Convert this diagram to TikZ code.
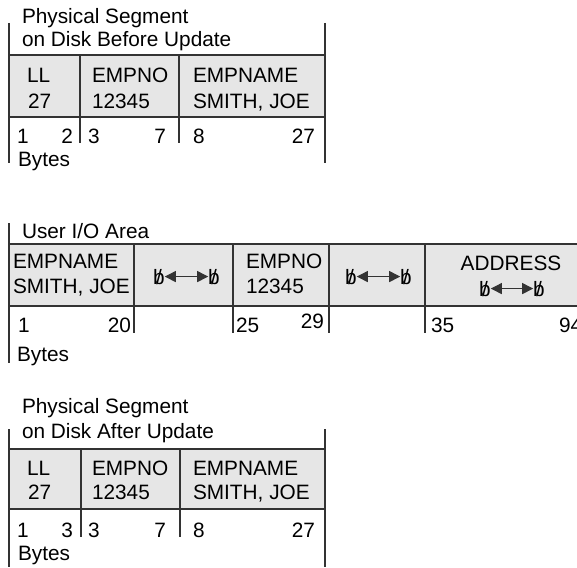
\documentclass[tikz,border=0pt]{standalone}
\usepackage{fontspec}
\setmainfont{Liberation Sans}
\usetikzlibrary{arrows.meta}
\definecolor{cellgray}{HTML}{E6E6E6}
\definecolor{ink}{HTML}{333333}
\newcommand{\blankb}{\ooalign{b\cr\hidewidth/\hidewidth\cr}}
\begin{document}
\begin{tikzpicture}[x=1pt,y=-1pt,
  every node/.style={inner sep=0pt, outer sep=0pt, font=\fontsize{20.8}{24}\selectfont, text=black},
  frame/.style={draw=ink, line width=1.1pt},
  cell/.style={fill=cellgray},
  lbl/.style={anchor=base west},
  rlbl/.style={anchor=base east},
  clbl/.style={anchor=base},
  gap/.style={draw=ink, line width=1pt, {Triangle[length=11pt,width=11pt]}-{Triangle[length=11pt,width=11pt]}}]
\useasboundingbox (0,0) rectangle (577,567);

% ---------- Top: Physical segment before update ----------
\fill[cell] (9,55) rectangle (325,117);
\draw[frame] (9,23) -- (9,163);
\draw[frame] (325,23) -- (325,163);
\draw[frame] (9,55) -- (325,55);
\draw[frame] (9,117) -- (325,117);
\draw[frame] (80,55) -- (80,143);
\draw[frame] (179,55) -- (179,143);
\node[lbl] (t1) at (22,24) {Physical Segment};
\node[lbl] (t2) at (22,47) {on Disk Before Update};
\node[lbl] (tll) at (27,83) {LL};
\node[lbl] (tllv) at (28,108) {27};
\node[lbl] (tno) at (92,83) {EMPNO};
\node[lbl] (tnov) at (92,108) {12345};
\node[lbl] (tna) at (193,83) {EMPNAME};
\node[lbl] (tnav) at (193,108) {SMITH, JOE};
\node[lbl] (tb1) at (17,143) {1};
\node[rlbl] (tb2) at (73,143) {2};
\node[lbl] (tb3) at (88,143) {3};
\node[rlbl] (tb7) at (166,143) {7};
\node[lbl] (tb8) at (193,143) {8};
\node[rlbl] (tb27) at (315,143) {27};
\node[lbl] (tby) at (18,166) {Bytes};

% ---------- Middle: User I/O area ----------
\fill[cell] (9,244) rectangle (577,306);
\draw[frame] (9,223) -- (9,363);
\draw[frame] (9,244) -- (577,244);
\draw[frame] (9,306) -- (577,306);
\draw[frame] (134,244) -- (134,333);
\draw[frame] (233,244) -- (233,333);
\draw[frame] (329,244) -- (329,333);
\draw[frame] (425,244) -- (425,333);
\node[lbl] (m0) at (22,238) {User I/O Area};
\node[lbl] (mna) at (13,268) {EMPNAME};
\node[lbl] (mnav) at (13,293) {SMITH, JOE};
\node[clbl] (m2a) at (159,284) {\blankb};
\node[clbl] (m2b) at (214,284) {\blankb};
\draw[gap] (m2a.east) -- (m2b.west);
\node[lbl] (mno) at (246,268) {EMPNO};
\node[lbl] (mnov) at (246,293) {12345};
\node[clbl] (m4a) at (351,284) {\blankb};
\node[clbl] (m4b) at (406,284) {\blankb};
\draw[gap] (m4a.east) -- (m4b.west);
\node[clbl] (mad) at (511,270) {ADDRESS};
\node[clbl] (m5a) at (485,296) {\blankb};
\node[clbl] (m5b) at (539,296) {\blankb};
\draw[gap] (m5a.east) -- (m5b.west);
\node[lbl] (mb1) at (18,332) {1};
\node[rlbl] (mb20) at (131,332) {20};
\node[lbl] (mb25) at (236,332) {25};
\node[rlbl] (mb29) at (324,328) {29};
\node[lbl] (mb35) at (431,332) {35};
\node[lbl] (mb94) at (559,332) {94};
\node[lbl] (mby) at (17,361) {Bytes};

% ---------- Bottom: Physical segment after update ----------
\fill[cell] (9,449) rectangle (325,509);
\draw[frame] (9,429) -- (9,567);
\draw[frame] (325,429) -- (325,567);
\draw[frame] (9,449) -- (325,449);
\draw[frame] (9,509) -- (325,509);
\draw[frame] (81,449) -- (81,537);
\draw[frame] (180,449) -- (180,537);
\node[lbl] (b1) at (22,413) {Physical Segment};
\node[lbl] (b2) at (22,438) {on Disk After Update};
\node[lbl] (bll) at (27,475) {LL};
\node[lbl] (bllv) at (28,499) {27};
\node[lbl] (bno) at (92,475) {EMPNO};
\node[lbl] (bnov) at (92,499) {12345};
\node[lbl] (bna) at (193,475) {EMPNAME};
\node[lbl] (bnav) at (193,499) {SMITH, JOE};
\node[lbl] (bb1) at (17,537) {1};
\node[rlbl] (bb3a) at (73,537) {3};
\node[lbl] (bb3b) at (88,537) {3};
\node[rlbl] (bb7) at (166,537) {7};
\node[lbl] (bb8) at (193,537) {8};
\node[rlbl] (bb27) at (315,537) {27};
\node[lbl] (bby) at (18,560) {Bytes};
\end{tikzpicture}
\end{document}
